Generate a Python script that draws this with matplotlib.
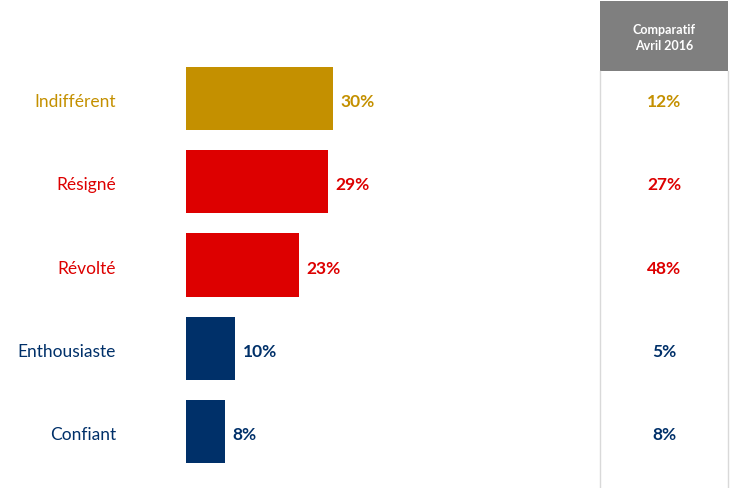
import matplotlib
matplotlib.use("Agg")
import matplotlib.pyplot as plt
import matplotlib.transforms as mtransforms
from matplotlib.patches import Rectangle
from matplotlib.lines import Line2D

# données
categories = ["Indifférent", "Résigné", "Révolté", "Enthousiaste", "Confiant"]
values = [30, 29, 23, 10, 8]
compare_2016 = [12, 27, 48, 5, 8]
colors = ["#C49000", "#DD0000", "#DD0000", "#003069", "#003069"]
header = "Comparatif\nAvril 2016"

plt.rcParams["font.family"] = ["Lato", "DejaVu Sans"]

W, H = 738, 489
fig = plt.figure(figsize=(W / 100, H / 100), dpi=100)

# axe des barres : de x=186 px à x=600 px, toute la hauteur
ax = fig.add_axes([186 / W, 0, (600 - 186) / W, 1])
ax.set_xlim(0, 414 / 4.9)
pitch = 83.25
ax.set_ylim((H - 99.5) / pitch, -99.5 / pitch)
ax.axis("off")

ypos = list(range(len(categories)))
ax.barh(ypos, values, height=0.76, color=colors)

# x en fraction de figure, y en données ; léger décalage vers le bas du texte
trans = mtransforms.blended_transform_factory(fig.transFigure, ax.transData)
down = mtransforms.ScaledTranslation(0, -2.5 / 100, fig.dpi_scale_trans)

for i, (cat, v, c, old) in enumerate(zip(categories, values, colors, compare_2016)):
    ax.text(116 / W, i, cat, transform=trans + down, ha="right", va="center",
            fontsize=12.5, color=c)
    ax.annotate(f"{v}%", (v, i), xytext=(5.5, -1.8), textcoords="offset points",
                ha="left", va="center", fontsize=12.5, fontweight="bold", color=c)
    ax.text(664 / W, i, f"{old}%", transform=trans + down, ha="center", va="center",
            fontsize=12.5, fontweight="bold", color=c)

# colonne comparatif
fig.patches.append(Rectangle((600 / W, 1 - 72 / H), 128 / W, 70 / H,
                             transform=fig.transFigure, facecolor="#7F7F7F",
                             edgecolor="none"))
fig.text(664 / W, 1 - 38 / H, header, ha="center", va="center",
         fontsize=9, fontweight="bold", color="white", linespacing=1.3)
for xp in (600, 728):
    fig.lines.append(Line2D([xp / W, xp / W], [0, 1 - 72 / H],
                            transform=fig.transFigure, color="#D9D9D9", lw=1))

fig.savefig("out.png", dpi=100)
